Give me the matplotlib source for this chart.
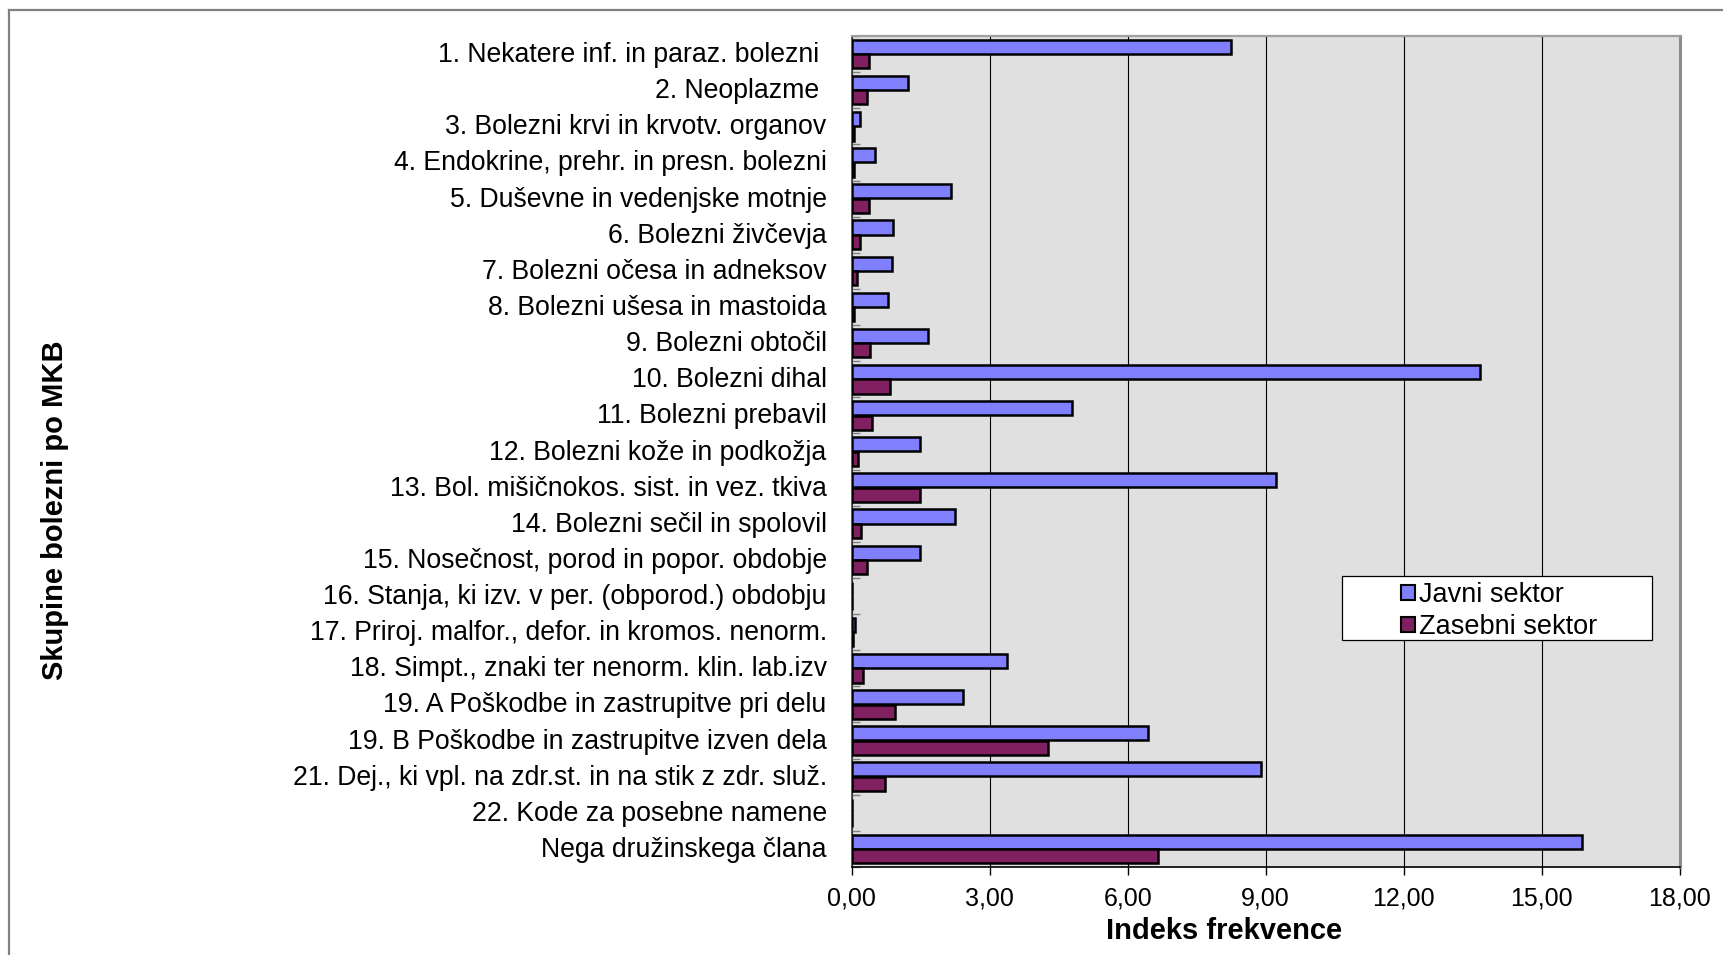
import numpy as np
import matplotlib
matplotlib.use("Agg")
import matplotlib.pyplot as plt
import matplotlib.transforms as mtransforms
from matplotlib.patches import Patch, Rectangle
from matplotlib.lines import Line2D

categories = [
    "1. Nekatere inf. in paraz. bolezni ",
    "2. Neoplazme ",
    "3. Bolezni krvi in krvotv. organov",
    "4. Endokrine, prehr. in presn. bolezni",
    "5. Duševne in vedenjske motnje",
    "6. Bolezni živčevja",
    "7. Bolezni očesa in adneksov",
    "8. Bolezni ušesa in mastoida",
    "9. Bolezni obtočil",
    "10. Bolezni dihal",
    "11. Bolezni prebavil",
    "12. Bolezni kože in podkožja",
    "13. Bol. mišičnokos. sist. in vez. tkiva",
    "14. Bolezni sečil in spolovil",
    "15. Nosečnost, porod in popor. obdobje",
    "16. Stanja, ki izv. v per. (obporod.) obdobju",
    "17. Priroj. malfor., defor. in kromos. nenorm.",
    "18. Simpt., znaki ter nenorm. klin. lab.izv",
    "19. A Poškodbe in zastrupitve pri delu",
    "19. B Poškodbe in zastrupitve izven dela",
    "21. Dej., ki vpl. na zdr.st. in na stik z zdr. služ.",
    "22. Kode za posebne namene",
    "Nega družinskega člana",
]
javni = [8.24, 1.22, 0.17, 0.51, 2.17, 0.90, 0.87, 0.79, 1.65, 13.67, 4.80, 1.48,
         9.22, 2.25, 1.48, 0.00, 0.07, 3.37, 2.41, 6.45, 8.90, 0.00, 15.88]
zasebni = [0.38, 0.33, 0.05, 0.06, 0.38, 0.17, 0.11, 0.06, 0.39, 0.84, 0.44, 0.14,
           1.48, 0.21, 0.33, 0.00, 0.02, 0.24, 0.94, 4.27, 0.72, 0.00, 6.66]
xticks = [0, 3, 6, 9, 12, 15, 18]
xtick_labels = ["0,00", "3,00", "6,00", "9,00", "12,00", "15,00", "18,00"]
series_names = ["Javni sektor", "Zasebni sektor"]
colors = ["#8080FF", "#802060"]

plt.rcParams['font.family'] = ['Liberation Sans', 'DejaVu Sans']
FS_LAB = 19.2
FS_TICK = 18
FS_TITLE = 21
FS_LEG = 19.5

W, H = 1723, 955
fig = plt.figure(figsize=(W / 100, H / 100), dpi=100)
fig.patch.set_facecolor("white")

# outer border
fig.add_artist(Line2D([9 / W, 1.0], [1 - 10 / H, 1 - 10 / H], transform=fig.transFigure,
                      color="#808080", lw=1.6))
fig.add_artist(Line2D([9 / W, 9 / W], [1 - 10 / H, 0.0], transform=fig.transFigure,
                      color="#808080", lw=1.6))

x0, x1 = 851.7, 1679.5
y0, y1 = 36, 867
ax = fig.add_axes([x0 / W, 1 - y1 / H, (x1 - x0) / W, (y1 - y0) / H])
ax.set_facecolor("#E0E0E0")

n = len(categories)
y = np.arange(n)
h = 0.39
off = 0.2
ax.barh(y - off, javni, height=h, color=colors[0], edgecolor="black", linewidth=1.8, zorder=3)
ax.barh(y + off, zasebni, height=h, color=colors[1], edgecolor="black", linewidth=1.8, zorder=3)

ax.set_xlim(0, 18)
ax.set_ylim(n - 0.5, -0.5)
ax.set_xticks(xticks)
ax.set_xticklabels(xtick_labels, fontsize=FS_TICK)
ax.set_yticks(y)
ax.set_yticklabels(categories, fontsize=FS_LAB)
ax.set_yticks(np.arange(n + 1) - 0.5, minor=True)
ax.tick_params(axis="y", which="major", length=0, pad=18)
ax.tick_params(axis="y", which="minor", direction="in", length=6, color="#808080", width=1)
ax.tick_params(axis="x", which="major", direction="out", length=6, width=1, color="black", pad=8)
ax.xaxis.grid(True, color="black", linewidth=0.8, zorder=1)
ax.set_axisbelow(True)

shift = mtransforms.ScaledTranslation(0, 2 / 100, fig.dpi_scale_trans)
for lbl in ax.get_yticklabels():
    lbl.set_transform(lbl.get_transform() + shift)

ax.spines["left"].set_color("#404040")
ax.spines["left"].set_linewidth(1.2)
ax.spines["bottom"].set_color("black")
ax.spines["bottom"].set_linewidth(1.2)
ax.spines["top"].set_color("#A0A0A0")
ax.spines["top"].set_linewidth(1.6)
ax.spines["right"].set_color("#8C8C8C")
ax.spines["right"].set_linewidth(2.2)

fig.text(1224 / W, 1 - 931 / H, "Indeks frekvence", fontsize=FS_TITLE, fontweight="bold",
         ha="center", va="center")
fig.text(55 / W, 1 - 510 / H, "Skupine bolezni po MKB", fontsize=FS_TITLE, fontweight="bold",
         rotation=90, ha="center", va="center")

# legend frame
fig.add_artist(Rectangle((1342 / W, 1 - 640 / H), (1652 - 1342) / W, (640 - 576) / H,
                         transform=fig.transFigure, facecolor="white", edgecolor="black",
                         linewidth=0.9, zorder=5))
handles = [Patch(facecolor=c, edgecolor="black", linewidth=1.5) for c in colors]
leg = fig.legend(handles, series_names, loc="upper left",
                 bbox_to_anchor=(1382 / W, 1 - 563 / H), frameon=False, fontsize=FS_LEG,
                 handlelength=0.5, handleheight=0.5, handletextpad=0.15,
                 labelspacing=0.22, borderpad=0.2)
leg.set_zorder(6)

fig.savefig("out.png", dpi=100)
